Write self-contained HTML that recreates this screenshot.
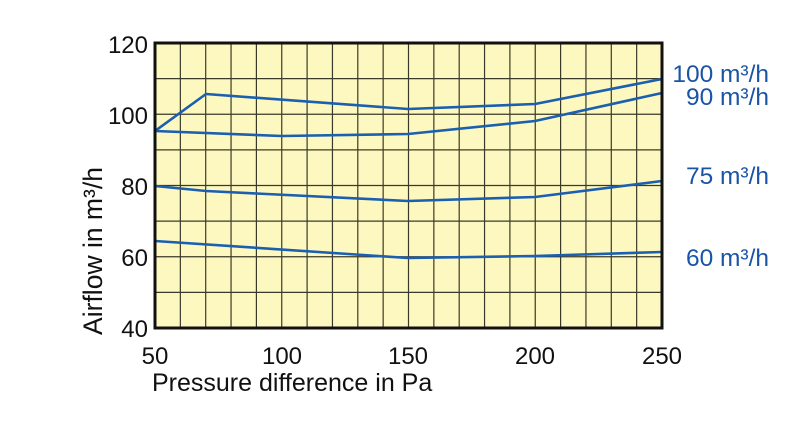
<!DOCTYPE html>
<html><head><style>body{margin:0;background:#fff}</style></head><body>
<svg width="800" height="437" viewBox="0 0 800 437" xmlns="http://www.w3.org/2000/svg" font-family="Liberation Sans, Arial, sans-serif">
<rect x="155" y="43" width="507" height="285" fill="#fdf8c0"/>
<g stroke="#3a3a2a" stroke-width="1.2">
<line x1="180.35" y1="43" x2="180.35" y2="328"/><line x1="205.7" y1="43" x2="205.7" y2="328"/><line x1="231.05" y1="43" x2="231.05" y2="328"/><line x1="256.4" y1="43" x2="256.4" y2="328"/><line x1="281.75" y1="43" x2="281.75" y2="328"/><line x1="307.1" y1="43" x2="307.1" y2="328"/><line x1="332.45" y1="43" x2="332.45" y2="328"/><line x1="357.8" y1="43" x2="357.8" y2="328"/><line x1="383.15" y1="43" x2="383.15" y2="328"/><line x1="408.5" y1="43" x2="408.5" y2="328"/><line x1="433.85" y1="43" x2="433.85" y2="328"/><line x1="459.2" y1="43" x2="459.2" y2="328"/><line x1="484.55" y1="43" x2="484.55" y2="328"/><line x1="509.9" y1="43" x2="509.9" y2="328"/><line x1="535.25" y1="43" x2="535.25" y2="328"/><line x1="560.6" y1="43" x2="560.6" y2="328"/><line x1="585.95" y1="43" x2="585.95" y2="328"/><line x1="611.3" y1="43" x2="611.3" y2="328"/><line x1="636.65" y1="43" x2="636.65" y2="328"/>
<line x1="155" y1="78.6" x2="662" y2="78.6"/><line x1="155" y1="114.25" x2="662" y2="114.25"/><line x1="155" y1="149.9" x2="662" y2="149.9"/><line x1="155" y1="185.5" x2="662" y2="185.5"/><line x1="155" y1="221.1" x2="662" y2="221.1"/><line x1="155" y1="256.75" x2="662" y2="256.75"/><line x1="155" y1="292.4" x2="662" y2="292.4"/>
</g>
<g fill="none" stroke="#1a5fb0" stroke-width="2.6" stroke-linejoin="round">
<polyline points="155,131 206,94 408,109 535,104 662,79"/>
<polyline points="155,131 282,136 408,134 535,121 662,93"/>
<polyline points="155,186 206,191 408,201 535,197 662,181"/>
<polyline points="155,241 408,258 535,256 662,252"/>
</g>
<rect x="155" y="43" width="507" height="285" fill="none" stroke="#111" stroke-width="3"/>
<g font-size="24" fill="#111" text-anchor="end">
<text x="148" y="53">120</text><text x="148" y="124">100</text><text x="148" y="195">80</text><text x="148" y="266">60</text><text x="148" y="337">40</text>
</g>
<g font-size="24" fill="#111" text-anchor="middle">
<text x="155" y="364">50</text><text x="282" y="364">100</text><text x="408" y="364">150</text><text x="535" y="364">200</text><text x="662" y="364">250</text>
</g>
<text x="152" y="391" font-size="25" fill="#111">Pressure difference in Pa</text>
<text transform="translate(102,251) rotate(-90)" font-size="26.5" fill="#111" text-anchor="middle">Airflow in m³/h</text>
<g font-size="24.5" fill="#1a55a5" text-anchor="end">
<text x="769" y="82">100 m³/h</text><text x="769" y="105">90 m³/h</text><text x="769" y="184">75 m³/h</text><text x="769" y="266">60 m³/h</text>
</g>
</svg>
</body></html>
